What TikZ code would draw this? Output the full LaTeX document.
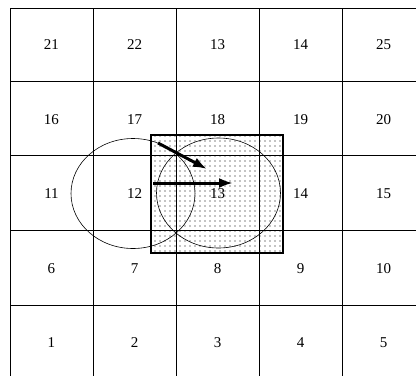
\documentclass[tikz,border=0pt]{standalone}
\usepackage{fontspec}
\setmainfont{Liberation Serif}
\usetikzlibrary{patterns.meta,arrows.meta}

\begin{document}
\begin{tikzpicture}[x=1pt,y=-1pt,font=\fontsize{15}{17}\selectfont]
	\useasboundingbox (0,0) rectangle (416,376);
	
	% Shaded window
	\draw[line width=1.2pt,pattern={Dots[distance=5pt,radius=0.7pt]}] (151,135) rectangle (283,253);
	
	% Grid lines
	\foreach \x in {10,93,176,259,342}
		\draw[line width=1pt] (\x,8) -- (\x,376);
	\foreach \y in {8,81.5,155,230,305}
		\draw[line width=1pt] (10,\y) -- (416,\y);
	
	% Cell numbers
	\foreach \labs [count=\row] in {{21,22,13,14,25},{16,17,18,19,20},{11,12,13,14,15},{6,7,8,9,10},{1,2,3,4,5}}
		\foreach \lab [count=\col] in \labs
			\node (c\row\col) at ({51.5+83*(\col-1)},{45+74.5*(\row-1)}) {\lab};
	
	% Circles
	\draw[line width=0.6pt] (133,193.5) ellipse [x radius=62,y radius=55];
	\draw[line width=0.6pt] (218.5,193) ellipse [x radius=62,y radius=55];
	
	% Arrows
	\coordinate (a1) at (158,143);
	\coordinate (b1) at (207,169);
	\coordinate (a2) at (153,183);
	\coordinate (b2) at (233,183);
	\draw[line width=3pt,-{Latex[length=14pt,width=10pt]}] (a1) -- (b1);
	\draw[line width=3pt,-{Latex[length=14pt,width=10pt]}] (a2) -- (b2);
\end{tikzpicture}
\end{document}
